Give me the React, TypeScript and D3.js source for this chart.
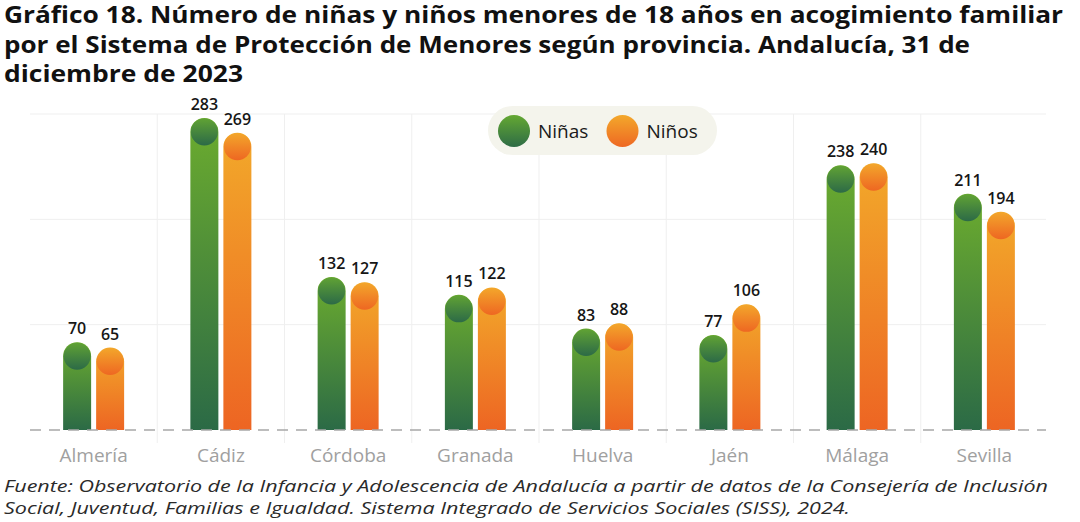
import React from "react";
import * as d3 from "d3";

const categories = ["Almería", "Cádiz", "Córdoba", "Granada", "Huelva", "Jaén", "Málaga", "Sevilla"];
const ninas = [70, 283, 132, 115, 83, 77, 238, 211];
const ninos = [65, 269, 127, 122, 88, 106, 240, 194];
const seriesKeys = ["ninas", "ninos"];
const seriesLabels = ["Niñas", "Niños"];
const yTicks = [100, 200, 300];

const titleLines = [
  "Gráfico 18. Número de niñas y niños menores de 18 años en acogimiento familiar",
  "por el Sistema de Protección de Menores según provincia. Andalucía, 31 de",
  "diciembre de 2023",
];
const sourceLines = [
  "Fuente: Observatorio de la Infancia y Adolescencia de Andalucía a partir de datos de la Consejería de Inclusión",
  "Social, Juventud, Familias e Igualdad. Sistema Integrado de Servicios Sociales (SISS), 2024.",
];

const W = 1080;
const H = 522;
const baseY = 430;
const R = 14;

export default function App() {
  const x = d3.scaleBand<string>().domain(categories).range([30, 1048]).padding(0);
  const y = d3.scaleLinear().domain([0, 300]).range([baseY, 114]);
  const bw = x.bandwidth();
  const xs = d3
    .scaleBand<string>()
    .domain(seriesKeys)
    .range([bw / 2 - 30.5, bw / 2 + 30.5])
    .paddingInner(5 / 33)
    .paddingOuter(0);
  const barW = xs.bandwidth();
  const values: Record<string, number[]> = { ninas, ninos };

  const barPath = (x0: number, top: number, w: number, bottom: number) => {
    const r = w / 2;
    return `M${x0},${bottom} L${x0},${top + r} A${r},${r} 0 0 1 ${x0 + w},${top + r} L${x0 + w},${bottom} Z`;
  };

  const titleWidths = [1059, 966, 239];
  const sourceWidths = [1044, 846];

  return (
    <div style={{ position: "fixed", left: 0, top: 0 }}>
      <svg width={W} height={H} style={{ display: "block", background: "#fff" }}>
        <defs>
          <linearGradient id="gBodyNinas" x1="0" y1="0" x2="0" y2="1">
            <stop offset="0%" stopColor="#6cac2e" />
            <stop offset="100%" stopColor="#2b6a46" />
          </linearGradient>
          <linearGradient id="gCapNinas" x1="0" y1="0" x2="0" y2="1">
            <stop offset="0%" stopColor="#60a234" />
            <stop offset="100%" stopColor="#2c6a47" />
          </linearGradient>
          <linearGradient id="gBodyNinos" x1="0" y1="0" x2="0" y2="1">
            <stop offset="0%" stopColor="#f2a92a" />
            <stop offset="100%" stopColor="#ed6523" />
          </linearGradient>
          <linearGradient id="gCapNinos" x1="0" y1="0" x2="0" y2="1">
            <stop offset="0%" stopColor="#f3a62b" />
            <stop offset="100%" stopColor="#ee6722" />
          </linearGradient>
          <linearGradient id="gLegNinas" x1="0" y1="0" x2="0" y2="1">
            <stop offset="0%" stopColor="#64a832" />
            <stop offset="100%" stopColor="#2e6c46" />
          </linearGradient>
          <linearGradient id="gLegNinos" x1="0" y1="0" x2="0" y2="1">
            <stop offset="0%" stopColor="#f3a82b" />
            <stop offset="100%" stopColor="#ee6823" />
          </linearGradient>
        </defs>

        {/* Title */}
        {titleLines.map((t, i) => (
          <text
            key={i}
            x={4}
            y={23 + i * 29.5}
            fontFamily="'Open Sans', 'DejaVu Sans', sans-serif"
            fontWeight={700}
            fontSize={22.5}
            fill="#111"
            textLength={titleWidths[i]}
            lengthAdjust="spacingAndGlyphs"
          >
            {t}
          </text>
        ))}

        {/* Horizontal gridlines */}
        {yTicks.map((t) => (
          <line key={t} x1={30} x2={1046} y1={y(t)} y2={y(t)} stroke="#efefef" strokeWidth={1} />
        ))}
        {/* Vertical separators */}
        {categories.slice(1).map((c) => (
          <line key={c} x1={x(c)!} x2={x(c)!} y1={y(300)} y2={443} stroke="#efefef" strokeWidth={1} />
        ))}

        {/* Bars */}
        {categories.map((c, ci) =>
          seriesKeys.map((k) => {
            const v = values[k][ci];
            const x0 = x(c)! + xs(k)!;
            const cy = y(v);
            const suffix = k === "ninas" ? "Ninas" : "Ninos";
            return (
              <g key={c + k}>
                <path d={barPath(x0, cy - R, barW, baseY)} fill={`url(#gBody${suffix})`} />
                <circle cx={x0 + barW / 2} cy={cy} r={barW / 2 - 0.5} fill={`url(#gCap${suffix})`} />
                <text
                  x={x0 + barW / 2}
                  y={cy - R - 8}
                  textAnchor="middle"
                  fontFamily="'Open Sans', 'Noto Sans', sans-serif"
                  fontWeight={600}
                  fontSize={16}
                  fill="#161616"
                >
                  {v}
                </text>
              </g>
            );
          })
        )}

        {/* Baseline dashed */}
        <line x1={30} x2={1046} y1={baseY} y2={baseY} stroke="#a8a8a8" strokeWidth={1.3} strokeDasharray="11 8" />

        {/* Category labels */}
        {categories.map((c) => (
          <text
            key={c}
            x={x(c)! + bw / 2}
            y={462}
            textAnchor="middle"
            fontFamily="'Open Sans', 'Noto Sans', sans-serif"
            fontWeight={400}
            fontSize={19}
            fill="#a0a0a0"
          >
            {c}
          </text>
        ))}

        {/* Legend */}
        <rect x={488} y={106} width={229} height={49} rx={24.5} fill="#f4f4ec" />
        {seriesKeys.map((k, i) => {
          const cx = 514 + i * 108.5;
          return (
            <g key={k}>
              <circle cx={cx} cy={131} r={16} fill={i === 0 ? "url(#gLegNinas)" : "url(#gLegNinos)"} />
              <text
                x={cx + 24}
                y={137.5}
                fontFamily="'Open Sans', 'Noto Sans', sans-serif"
                fontSize={19}
                fill="#1a1a1a"
              >
                {seriesLabels[i]}
              </text>
            </g>
          );
        })}

        {/* Source */}
        {sourceLines.map((t, i) => (
          <text
            key={i}
            x={4}
            y={492 + i * 22}
            fontFamily="'Open Sans', 'Noto Sans', sans-serif"
            fontStyle="italic"
            fontSize={17}
            fill="#2a2a2a"
            textLength={sourceWidths[i]}
            lengthAdjust="spacingAndGlyphs"
          >
            {t}
          </text>
        ))}
      </svg>
    </div>
  );
}
